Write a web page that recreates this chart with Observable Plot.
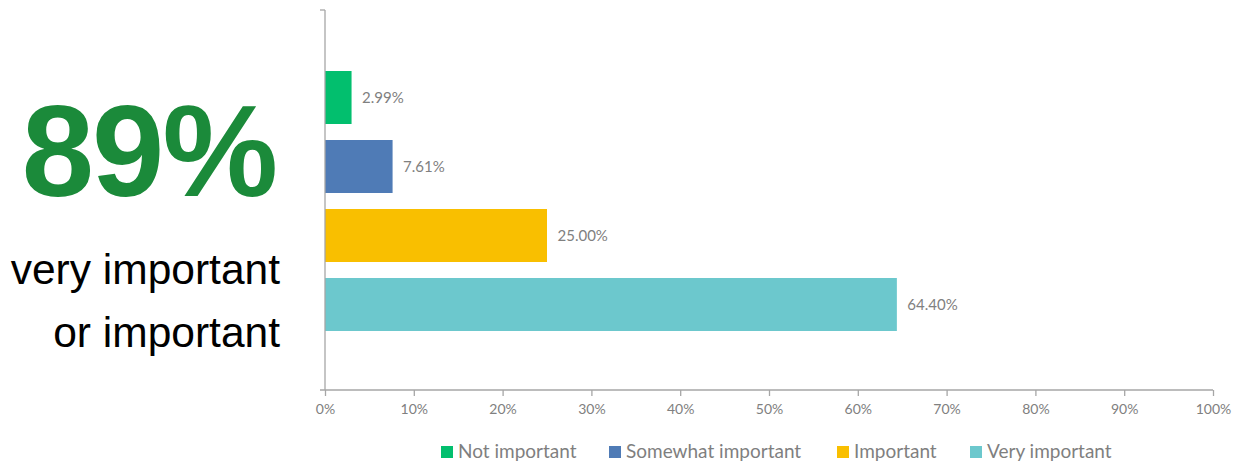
<!DOCTYPE html>
<html>
<head>
<meta charset="utf-8">
<script src="https://cdn.jsdelivr.net/npm/d3@7"></script>
<script src="https://cdn.jsdelivr.net/npm/@observablehq/plot@0.6"></script>
<style>
  html, body { margin: 0; padding: 0; background: #fff; }
  #wrap { position: relative; width: 1248px; height: 466px; overflow: hidden; }
  #big { position: absolute; left: 0; top: 0; width: 300px; height: 466px; text-align: right; font-family: "Liberation Sans", Arial, sans-serif; }
  #pct { position: absolute; right: 24px; top: 86px; font-size: 130px; font-weight: bold; color: #1b8a3a; line-height: 1; white-space: nowrap; letter-spacing: -2px; }
  .sub { position: absolute; right: 20px; font-size: 42.5px; color: #000; line-height: 1; white-space: nowrap; }
  #chart { position: absolute; left: 0; top: 0; }
  #legend { position: absolute; left: 0; top: 439px; width: 1248px; height: 26px; font-family: Lato, "Open Sans", sans-serif; font-size: 19px; color: #7f7f7f; }
  .li { position: absolute; top: 0; white-space: nowrap; line-height: 24px; }
  .sw { display: inline-block; width: 12px; height: 12px; margin-right: 5px; vertical-align: 0px; }
</style>
</head>
<body>
<div id="wrap">
  <div id="chart"></div>
  <div id="big">
    <div id="pct">89%</div>
    <div class="sub" style="top:249px;">very important</div>
    <div class="sub" style="top:312px;">or important</div>
  </div>
  <div id="legend"></div>
</div>
<script>
// Data
const categories = ["Not important", "Somewhat important", "Important", "Very important"];
const values = [2.99, 7.61, 25.00, 64.40];
const colors = ["#02bf6e", "#4f7bb6", "#f9bf00", "#6cc8cd"];
const xTicks = [0, 10, 20, 30, 40, 50, 60, 70, 80, 90, 100];

const data = categories.map((c, i) => ({category: c, value: values[i]}));

const axisGray = "#a6a6a6";
const textGray = "#808080";

const axisExtras = (index, scales, values, dimensions) => {
  const {marginLeft, marginTop, height, marginBottom, width, marginRight} = dimensions;
  const g = d3.create("svg:g").attr("stroke", axisGray).attr("stroke-width", 1.3);
  const x0 = marginLeft, yb = height - marginBottom;
  g.append("line").attr("x1", x0).attr("x2", x0).attr("y1", marginTop).attr("y2", yb);
  g.append("line").attr("x1", x0 - 5).attr("x2", x0).attr("y1", marginTop).attr("y2", marginTop);
  g.append("line").attr("x1", x0 - 5).attr("x2", width - marginRight).attr("y1", yb).attr("y2", yb);
  return g.node();
};

const chart = Plot.plot({
  width: 1248,
  height: 430,
  marginLeft: 325,
  marginRight: 35,
  marginTop: 10,
  marginBottom: 40,
  style: {fontFamily: "Lato, 'Open Sans', sans-serif", background: "transparent"},
  x: {domain: [0, 100], ticks: xTicks, label: null},
  y: {domain: categories, range: [63, 339], paddingInner: 0.23, paddingOuter: 0.115, axis: null},
  color: {domain: categories, range: colors},
  marks: [
    Plot.barX(data, {y: "category", x: "value", fill: "category"}),
    Plot.text(data, {
      y: "category", x: "value", text: d => d.value.toFixed(2) + "%",
      dx: 10, textAnchor: "start", fill: textGray, fontSize: 15
    }),
    Plot.axisX({
      ticks: xTicks, tickSize: 6, tickPadding: 8, tickFormat: d => d + "%", label: null,
      stroke: axisGray, color: textGray, fontSize: 14, strokeWidth: 1.3
    }),
    axisExtras
  ]
});
document.getElementById("chart").appendChild(chart);

// Legend
const legendPos = [441, 609, 837, 970];
const legend = document.getElementById("legend");
categories.forEach((c, i) => {
  const item = document.createElement("div");
  item.className = "li";
  item.style.left = legendPos[i] + "px";
  item.innerHTML = `<span class="sw" style="background:${colors[i]}"></span>${c}`;
  legend.appendChild(item);
});
</script>
</body>
</html>
